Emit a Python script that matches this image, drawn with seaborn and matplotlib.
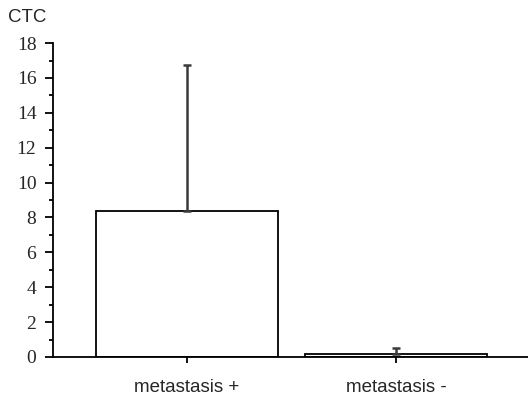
import matplotlib
matplotlib.use("Agg")
import matplotlib.pyplot as plt
import seaborn as sns
import pandas as pd
from matplotlib.ticker import MultipleLocator

categories = ["metastasis +", "metastasis -"]
means = [8.4, 0.17]
err_upper = [8.35, 0.35]

sns.set_style("white")
plt.rcParams['font.family'] = ['Liberation Sans', 'DejaVu Sans']

df = pd.DataFrame({"group": categories, "CTC": means})

fig = plt.figure(figsize=(5.28, 3.99), dpi=100)
ax = fig.add_axes([0.1004, 0.1053, 0.8996, 0.7867])

sns.barplot(data=df, x="group", y="CTC", color="white", edgecolor="black",
            linewidth=1.3, width=0.87, errorbar=None, ax=ax)
ax.errorbar(range(len(categories)), means, yerr=[[0] * len(means), err_upper],
            fmt="none", ecolor="#3a3a3a", elinewidth=1.8, capsize=2.8, capthick=1.8)

ax.set_ylim(0, 18)
ax.set_xlim(-0.64, 1.63)
ax.yaxis.set_major_locator(MultipleLocator(2))
ax.yaxis.set_minor_locator(MultipleLocator(1))
for s in ["top", "right"]:
    ax.spines[s].set_visible(False)
for s in ["left", "bottom"]:
    ax.spines[s].set_color("black")
    ax.spines[s].set_linewidth(1.3)
ax.tick_params(axis="y", which="major", direction="out", length=6, width=1.3,
               color="black", left=True, pad=6)
ax.tick_params(axis="y", which="minor", direction="out", length=3, width=1.3,
               color="black", left=True)
ax.tick_params(axis="x", direction="out", length=4, width=1.3, color="black",
               bottom=True, pad=12, labelsize=13.5)
for lbl in ax.get_yticklabels():
    lbl.set_fontfamily(['Liberation Serif', 'DejaVu Serif'])
    lbl.set_fontsize(14)
ax.set_xlabel("")
ax.set_ylabel("")
fig.text(8 / 528, 1 - 18 / 399, "CTC", fontsize=13.5, ha="left", va="center")

fig.savefig("out.png", dpi=100)
